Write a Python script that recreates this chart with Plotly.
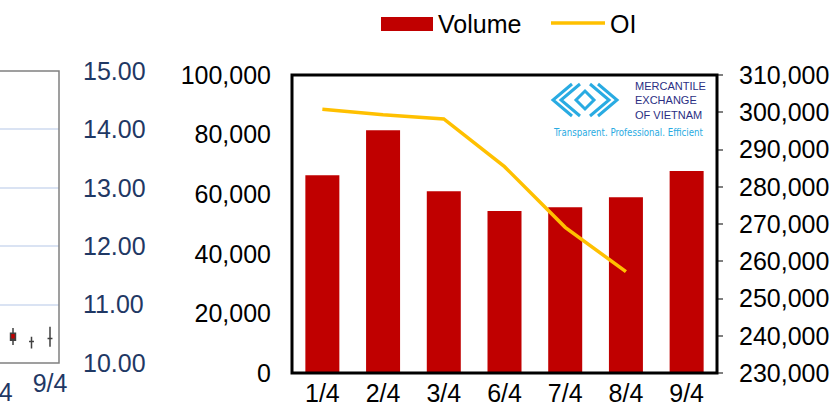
import plotly.graph_objects as go

# ---------------- data ----------------
dates = ["1/4", "2/4", "3/4", "6/4", "7/4", "8/4", "9/4"]
volume = [66400, 81500, 61000, 54400, 55600, 59000, 67800]
oi = [300800, 299300, 298200, 285400, 269100, 257200, None]

# fragment of neighbouring price chart (only last sessions visible)
price_dates = ["6/4", "7/4", "8/4", "9/4"]
price_open = [10.47, 10.51, 10.37, 10.42]
price_high = [10.50, 10.60, 10.45, 10.62]
price_low = [10.44, 10.31, 10.25, 10.28]
price_close = [10.47, 10.39, 10.37, 10.42]

W, H = 838, 415
FONT = "Liberation Sans, Arial, sans-serif"
NAVY = "#1F3864"
FS = 25


def px(x):
    return x / W


def py(y):
    return 1 - y / H


fig = go.Figure()

# ---------- left fragment chart ----------
fig.add_trace(go.Candlestick(
    x=price_dates, open=price_open, high=price_high, low=price_low, close=price_close,
    xaxis="x3", yaxis="y3",
    increasing=dict(line=dict(color="#404040", width=1.5), fillcolor="#FFFFFF"),
    decreasing=dict(line=dict(color="#404040", width=1.5), fillcolor="#C00000"),
    whiskerwidth=0, showlegend=False, hoverinfo="skip",
))

# ---------- main chart ----------
fig.add_trace(go.Bar(
    x=dates, y=volume, name="Volume", marker=dict(color="#C00000", line=dict(width=0)),
    showlegend=False,
))
fig.add_trace(go.Scatter(
    x=dates, y=oi, name="OI", mode="lines", yaxis="y2",
    line=dict(color="#FFC000", width=3.5), showlegend=False,
))

x_dom = [px(292), px(717)]
y_dom = [py(373), py(75)]

shapes = []
annotations = []

# left fragment frame (left edge lies off-screen)
shapes.append(dict(type="rect", xref="paper", yref="paper",
                   x0=px(-60), x1=px(59), y0=py(363), y1=py(71),
                   line=dict(color="#808080", width=1.5), layer="above"))
# partially visible tick label of the fragment chart
annotations.append(dict(text="6/4", xref="paper", yref="paper", x=px(-5), y=py(392),
                        showarrow=False, font=dict(family=FONT, size=FS, color=NAVY),
                        xanchor="center", yanchor="middle"))

# main frame
shapes.append(dict(type="rect", xref="paper", yref="paper",
                   x0=x_dom[0], x1=x_dom[1], y0=y_dom[0], y1=y_dom[1],
                   line=dict(color="#000000", width=3), layer="above"))

# legend (drawn manually to match wide swatches)
shapes.append(dict(type="rect", xref="paper", yref="paper",
                   x0=px(381), x1=px(433), y0=py(31), y1=py(17),
                   fillcolor="#C00000", line=dict(width=0)))
annotations.append(dict(text="Volume", xref="paper", yref="paper", x=px(436), y=py(24),
                        showarrow=False, xanchor="left", yanchor="middle",
                        font=dict(family=FONT, size=FS, color="#000000")))
shapes.append(dict(type="line", xref="paper", yref="paper",
                   x0=px(551), x1=px(605), y0=py(23), y1=py(23),
                   line=dict(color="#FFC000", width=3.5)))
annotations.append(dict(text="OI", xref="paper", yref="paper", x=px(608), y=py(24),
                        showarrow=False, xanchor="left", yanchor="middle",
                        font=dict(family=FONT, size=FS, color="#000000")))

# MXV logo (decoration)
BLUE = "#29ABE2"
logo_paths = [
    [(572, 84), (553, 100), (572, 116)],
    [(580, 84), (561, 100), (580, 116)],
    [(598, 84), (617, 100), (598, 116)],
    [(590, 84), (609, 100), (590, 116)],
]
for pts in logo_paths:
    d = "M " + " L ".join(f"{px(a)},{py(b)}" for a, b in pts)
    shapes.append(dict(type="path", xref="paper", yref="paper", path=d,
                       line=dict(color=BLUE, width=3)))
diamond = [(585, 91), (594, 100), (585, 109), (576, 100), (585, 91)]
d = "M " + " L ".join(f"{px(a)},{py(b)}" for a, b in diamond) + " Z"
shapes.append(dict(type="path", xref="paper", yref="paper", path=d,
                   line=dict(color=BLUE, width=3)))
annotations.append(dict(text="MERCANTILE<br>EXCHANGE<br>OF VIETNAM", xref="paper", yref="paper",
                        x=px(633), y=py(100), showarrow=False, xanchor="left", yanchor="middle",
                        align="left",
                        font=dict(family="Liberation Sans, sans-serif", size=11, color="#2B2E83")))
annotations.append(dict(text="Transparent. Professional. Efficient", xref="paper", yref="paper",
                        x=px(628), y=py(132), showarrow=False, xanchor="center", yanchor="middle",
                        font=dict(family="Liberation Sans Narrow, DejaVu Sans Condensed, sans-serif",
                                  size=9.6, color=BLUE)))

fig.update_layout(
    width=W, height=H,
    margin=dict(l=0, r=0, t=0, b=0, autoexpand=False),
    paper_bgcolor="#FFFFFF", plot_bgcolor="rgba(0,0,0,0)",
    font=dict(family=FONT, size=FS, color="#000000"),
    bargap=0.44, boxgap=0.62,
    showlegend=False,
    xaxis=dict(domain=x_dom, type="category", showgrid=False, zeroline=False,
               showline=False, ticks="", ticklabelstandoff=3,
               tickfont=dict(size=FS), automargin=False),
    yaxis=dict(domain=y_dom, range=[0, 100000], dtick=20000, tickformat=",",
               showgrid=False, zeroline=False, showline=False, ticks="",
               ticklabelstandoff=20, tickfont=dict(size=FS), automargin=False),
    yaxis2=dict(overlaying="y", side="right", range=[230000, 310000], dtick=10000,
                tickformat=",", showgrid=False, zeroline=False, showline=False,
                ticks="outside", ticklen=5, tickcolor="#808080", tickwidth=1.5,
                ticklabelstandoff=11, tickfont=dict(size=FS), automargin=False),
    xaxis3=dict(domain=[0, px(59)], anchor="y3", type="category",
                range=[3 - 50 / 18.5, 3 + 9 / 18.5], rangeslider=dict(visible=False),
                tickvals=["9/4"], showgrid=False, zeroline=False, showline=False,
                ticks="", ticklabelstandoff=3,
                tickfont=dict(size=FS, color=NAVY), automargin=False),
    yaxis3=dict(domain=[py(363), py(71)], anchor="x3", side="right", range=[10, 15],
                dtick=1, tickformat=".2f", showgrid=True, gridcolor="#DAE3F3", gridwidth=1.5,
                zeroline=False, showline=False, ticks="", ticklabelstandoff=23,
                tickfont=dict(size=FS, color=NAVY), automargin=False),
    shapes=shapes,
    annotations=annotations,
)

fig.write_html("out.html", config={"displayModeBar": False},
               post_script="document.body.style.margin='0';")
